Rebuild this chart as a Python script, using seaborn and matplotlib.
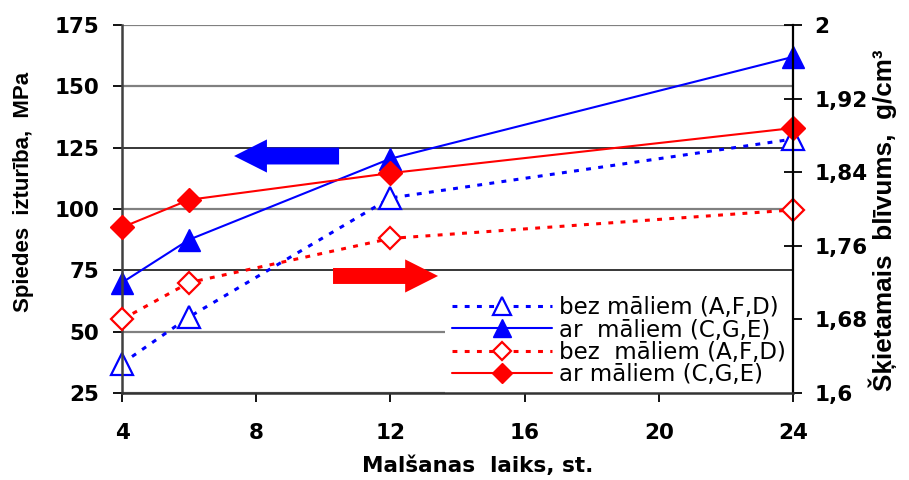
import matplotlib
matplotlib.use("Agg")
import matplotlib.pyplot as plt
import seaborn as sns
from matplotlib.patches import FancyArrow

# ---- data ----
time_h = [4, 6, 12, 24]
strength_without = [37, 56, 104.5, 128.5]
strength_with = [70, 87.5, 120.5, 162]
density_without = [1.68, 1.72, 1.768, 1.799]
density_with = [1.78, 1.81, 1.839, 1.888]

x_ticks = [4, 8, 12, 16, 20, 24]
left_ticks = [25, 50, 75, 100, 125, 150, 175]
right_ticks = [1.6, 1.68, 1.76, 1.84, 1.92, 2.0]
right_tick_labels = ['1,6', '1,68', '1,76', '1,84', '1,92', '2']

series_labels = ['bez māliem (A,F,D)', 'ar  māliem (C,G,E)',
                 'bez  māliem (A,F,D)', 'ar māliem (C,G,E)']
left_label = 'Spiedes  izturība,  MPa'
right_label = 'Šķietamais  blīvums,  g/cm³'
x_label = 'Malšanas  laiks, st.'

# ---- style ----
sns.set_style("white")
plt.rcParams['font.family'] = ['DejaVu Sans']
for key in ['text.color', 'xtick.color', 'ytick.color', 'axes.labelcolor',
            'axes.edgecolor']:
    plt.rcParams[key] = 'black'

BLUE = '#0000FF'
RED = '#FF0000'
DOT = (0, (1.6, 2.4))

fig = plt.figure(figsize=(9.09, 4.8), dpi=100)
ax = fig.add_axes([122 / 909, 87 / 480, 671 / 909, 368 / 480])
ax2 = ax.twinx()

handles = []
sns.lineplot(x=time_h, y=strength_without, ax=ax, color=BLUE, linewidth=2.2,
             linestyle=DOT, marker='^', markersize=15.5, markerfacecolor='white',
             markeredgecolor=BLUE, markeredgewidth=1.6, clip_on=False)
handles.append(ax.lines[-1])
sns.lineplot(x=time_h, y=strength_with, ax=ax, color=BLUE, linewidth=1.5,
             marker='^', markersize=15.5, markerfacecolor=BLUE,
             markeredgecolor=BLUE, markeredgewidth=1, clip_on=False)
handles.append(ax.lines[-1])
sns.lineplot(x=time_h, y=density_without, ax=ax2, color=RED, linewidth=2.2,
             linestyle=DOT, marker='D', markersize=11.3, markerfacecolor='white',
             markeredgecolor=RED, markeredgewidth=1.6, clip_on=False)
handles.append(ax2.lines[-1])
sns.lineplot(x=time_h, y=density_with, ax=ax2, color=RED, linewidth=1.5,
             marker='D', markersize=12.3, markerfacecolor=RED,
             markeredgecolor=RED, markeredgewidth=1, clip_on=False)
handles.append(ax2.lines[-1])

# axes ranges & ticks
ax.set_xlim(4, 24)
ax.set_xticks(x_ticks)
ax.set_ylim(25, 175)
ax.set_yticks(left_ticks)
ax2.set_ylim(1.6, 2.0)
ax2.set_yticks(right_ticks)
ax2.set_yticklabels(right_tick_labels)
ax.set_xlabel('')
ax.set_ylabel('')
ax2.set_ylabel('')

ax.tick_params(axis='y', direction='out', length=6.5, width=1.3, pad=10,
               labelsize=15.5, left=True, colors='black')
ax.tick_params(axis='x', direction='out', length=6.5, width=1.3, pad=15,
               labelsize=15.5, bottom=True, colors='black')
ax2.tick_params(axis='y', direction='inout', length=13, width=1.3, pad=9,
                labelsize=15.5, right=True, colors='black')
for lbl in ax.get_xticklabels() + ax.get_yticklabels() + ax2.get_yticklabels():
    lbl.set_fontweight('bold')

# grid
ax.set_axisbelow(True)
ax.yaxis.grid(True, color='#808080', linewidth=1.6)
ax.xaxis.grid(False)
for gl, val in zip(ax.yaxis.get_gridlines(), left_ticks):
    if val in (75, 125):
        gl.set_color('black')
        gl.set_linewidth(1.1)

for sp in ['top', 'right']:
    ax.spines[sp].set_visible(False)
for sp in ['top', 'left']:
    ax2.spines[sp].set_visible(False)
ax.spines['left'].set_color('#404040')
ax.spines['left'].set_linewidth(1.8)
ax2.spines['bottom'].set_color('#333333')
ax2.spines['bottom'].set_linewidth(1.8)
ax.spines['bottom'].set_visible(False)
ax2.spines['right'].set_color('black')
ax2.spines['right'].set_linewidth(1.6)

# arrows
ax2.add_patch(FancyArrow(10.47, 121.6, -3.13, 0, width=6.9, head_width=13.5,
                         head_length=0.98, length_includes_head=True,
                         color=BLUE, linewidth=0, transform=ax.transData, zorder=3))
ax2.add_patch(FancyArrow(10.29, 72.7, 3.13, 0, width=6.5, head_width=13.5,
                         head_length=0.98, length_includes_head=True,
                         color=RED, linewidth=0, transform=ax.transData, zorder=3))
ax2.set_ylim(1.6, 2.0)

# legend
leg = ax2.legend(handles, series_labels, loc='lower right', bbox_to_anchor=(1, 0),
                 bbox_transform=ax2.transAxes, borderaxespad=0, frameon=True,
                 fancybox=False, edgecolor='none', facecolor='white', framealpha=1,
                 fontsize=16.5, handlelength=4.4, handletextpad=0.3,
                 labelspacing=-0.03, borderpad=0.3, markerscale=0.85)
leg.set_zorder(2.4)
for t in leg.get_texts():
    t.set_color('black')

# axis labels
fig.text(24 / 909, 1 - 192 / 480, left_label, rotation=90, ha='center', va='center',
         fontsize=16, fontweight='bold', family='Liberation Sans', color='black')
fig.text(883 / 909, 1 - 220 / 480, right_label, rotation=90, ha='center', va='center',
         fontsize=18.8, fontweight='bold', family='Liberation Sans', color='black')
fig.text(478 / 909, 1 - 466 / 480, x_label, ha='center', va='center',
         fontsize=15.5, fontweight='bold', color='black')

fig.savefig('out.png', dpi=100)
